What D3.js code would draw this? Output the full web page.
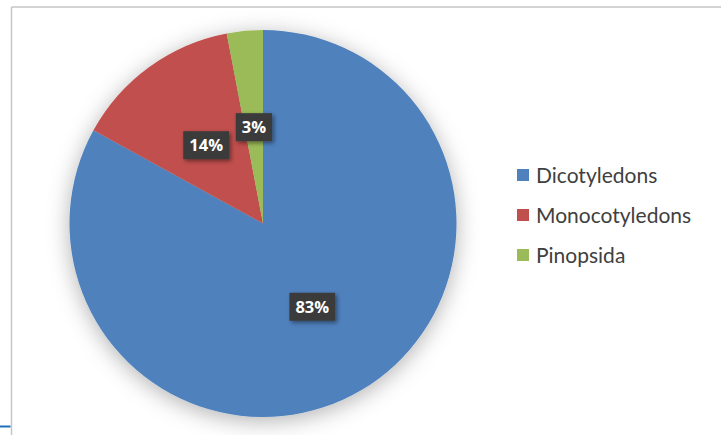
<!DOCTYPE html>
<html><head><meta charset="utf-8">
<script src="https://cdn.jsdelivr.net/npm/d3@7"></script>
<style>html,body{margin:0;padding:0;background:#fff;overflow:hidden}</style>
</head><body>
<svg id="c" width="721" height="435"></svg>
<script>
const categories = ["Dicotyledons", "Monocotyledons", "Pinopsida"];
const values = [83, 14, 3];
const labels = ["83%", "14%", "3%"];
const colors = ["#4F81BD", "#C0504D", "#9BBB59"];

const svg = d3.select("#c");
const defs = svg.append("defs");
const f = defs.append("filter").attr("id","sh").attr("x","-30%").attr("y","-30%").attr("width","160%").attr("height","160%");
f.append("feDropShadow").attr("dx",0).attr("dy",4).attr("stdDeviation",11).attr("flood-color","#000").attr("flood-opacity",0.3);
const f2 = defs.append("filter").attr("id","lsh").attr("x","-30%").attr("y","-30%").attr("width","160%").attr("height","160%");
f2.append("feDropShadow").attr("dx",2).attr("dy",2).attr("stdDeviation",2).attr("flood-color","#000").attr("flood-opacity",0.45);

// chart frame
svg.append("line").attr("x1",11.5).attr("x2",721).attr("y1",7).attr("y2",7).attr("stroke","#c6c6c6").attr("stroke-width",1.5);
svg.append("line").attr("x1",11.5).attr("x2",11.5).attr("y1",7).attr("y2",435).attr("stroke","#c6c6c6").attr("stroke-width",1.5);
svg.append("line").attr("x1",0).attr("x2",10.5).attr("y1",426.5).attr("y2",426.5).attr("stroke","#1f6fb8").attr("stroke-width",2);

const cx = 263, cy = 223.5, r = 193.5;
const pie = d3.pie().sort(null).value(d => d)(values);
const arc = d3.arc().innerRadius(0).outerRadius(r);
const g = svg.append("g").attr("transform", `translate(${cx},${cy})`);
g.append("g").attr("filter","url(#sh)").selectAll("path").data(pie).join("path")
  .attr("d", arc).attr("fill", (d,i) => colors[i]).attr("stroke","none");

const labArc = d3.arc().innerRadius(r*0.5).outerRadius(r*0.5);
const lg = g.selectAll("g.lab").data(pie).join("g").attr("class","lab")
  .attr("transform", d => { const c = labArc.centroid(d); return `translate(${c[0]},${c[1]})`; });
lg.each(function(d,i){
  const s = d3.select(this);
  const t = s.append("text").text(labels[i]).attr("text-anchor","middle").attr("dy","0.36em")
    .attr("font-family","'Open Sans', 'DejaVu Sans', sans-serif").attr("font-weight","bold")
    .attr("font-size","16.5px").attr("fill","#fff");
  const w = t.node().getComputedTextLength();
  s.insert("rect","text").attr("x",-w/2-6).attr("y",-14).attr("width",w+12).attr("height",28)
    .attr("fill","#3b3b3b").attr("filter","url(#lsh)");
});

// legend
const leg = svg.append("g");
categories.forEach((c,i) => {
  const y = 175 + i*40;
  leg.append("rect").attr("x",517).attr("y",y-6).attr("width",12).attr("height",12).attr("fill",colors[i]);
  leg.append("text").attr("x",536).attr("y",y).attr("dy","0.36em").text(c)
    .attr("font-family","Lato, 'Open Sans', sans-serif").attr("font-size","21px").attr("fill","#404040");
});
</script>
</body></html>
